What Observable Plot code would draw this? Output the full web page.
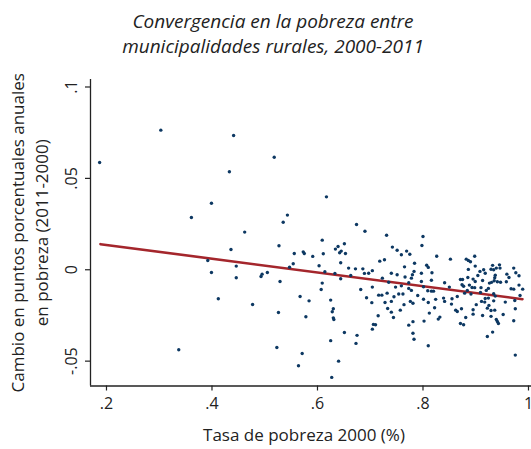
<!DOCTYPE html>
<html>
<head>
<meta charset="utf-8">
<script src="https://cdn.jsdelivr.net/npm/d3@7"></script>
<script src="https://cdn.jsdelivr.net/npm/@observablehq/plot@0.6"></script>
<style>
  html, body { margin: 0; padding: 0; background: #fff; }
  #title { width: 531px; height: 70px; box-sizing: border-box; padding-top: 9px; padding-left: 15px;
    text-align: center; font-family: "Open Sans", sans-serif; font-style: italic; font-size: 19px;
    line-height: 25px; color: #222; }
</style>
</head>
<body>
<div id="title">Convergencia en la pobreza entre<br>municipalidades rurales, 2000-2011</div>
<div id="chart"></div>
<script>
const poverty2000 = [
0.187,0.303,0.441,0.518,0.433,0.399,0.361,0.543,0.535,0.617,0.674,0.690,
0.462,0.527,0.436,0.392,0.556,0.573,0.575,0.554,0.547,0.446,0.399,0.446,0.493,0.495,0.505,0.529,0.412,0.477,0.526,0.567,0.584,0.578,0.337,0.523,0.571,0.564,
0.609,0.651,0.639,0.634,0.645,0.653,0.642,0.611,0.591,0.718,0.644,0.603,0.659,0.672,0.686,0.704,0.614,0.633,0.689,0.697,0.663,0.644,0.609,0.607,0.682,0.704,0.693,0.716,0.625,0.703,
0.731,0.800,0.798,0.742,0.751,0.769,0.775,0.759,0.826,0.727,0.852,0.784,0.807,0.810,0.765,0.783,0.740,0.751,0.797,0.817,0.780,0.778,0.766,0.723,0.816,0.735,0.797,0.871,0.773,0.841,0.748,0.759,0.801,0.850,0.773,0.778,0.809,0.816,0.820,0.732,0.754,0.762,0.722,0.745,0.790,0.839,0.865,0.855,0.801,0.824,0.776,0.781,0.810,0.728,0.740,0.764,0.841,0.854,
0.898,0.882,0.886,0.890,0.899,0.932,0.945,0.972,0.939,0.946,0.929,0.934,0.915,0.886,0.908,0.918,0.976,0.959,0.937,0.904,0.982,0.963,0.885,0.875,0.936,0.895,0.935,0.941,0.913,0.947,0.926,0.930,0.958,0.899,0.888,0.874,0.877,0.893,0.898,0.910,0.924,0.967,0.972,0.982,0.989,0.920,0.884,0.879,0.909,0.934,0.937,0.984,0.891,0.901,0.918,0.924,0.911,0.917,0.974,0.934,0.956,
0.975,0.972,0.975,
0.630,0.628,0.630,0.631,0.715,0.706,0.710,0.704,0.651,0.675,0.625,0.673,0.640,0.627,
0.733,0.740,0.744,0.757,0.781,0.773,0.802,0.812,0.822,0.832,0.829,0.862,0.865,0.871,0.781,0.783,0.810,
0.873,0.895,0.895,0.881,0.877,0.922,0.925,0.929,0.936,0.913,0.929,0.939,0.941,0.943,0.952,0.932,0.922
];
const povertyChange = [
0.0587,0.0764,0.0735,0.0616,0.0536,0.0364,0.0286,0.0299,0.0260,0.0399,0.0248,0.0211,
0.0206,0.0131,0.0111,0.0051,0.0089,0.0098,0.0089,0.0033,0.0014,0.0020,-0.0015,-0.0044,-0.0037,-0.0024,-0.0015,-0.0064,-0.0159,-0.0190,-0.0234,-0.0146,-0.0170,-0.0257,-0.0438,-0.0425,-0.0458,-0.0525,
0.0162,0.0142,0.0127,0.0113,0.0102,0.0089,0.0093,0.0088,0.0073,0.0047,0.0038,0.0022,0.0009,0.0005,0.0005,-0.0005,-0.0011,-0.0020,-0.0020,-0.0019,-0.0031,-0.0049,-0.0073,-0.0108,-0.0108,-0.0095,-0.0153,-0.0139,-0.0166,-0.0180,
0.0189,0.0182,0.0133,0.0124,0.0107,0.0102,0.0085,0.0082,0.0074,0.0055,0.0058,0.0036,0.0025,0.0013,0.0016,-0.0009,-0.0019,-0.0027,-0.0019,-0.0016,-0.0027,-0.0046,-0.0040,-0.0046,-0.0057,-0.0068,-0.0064,-0.0053,-0.0071,-0.0071,-0.0095,-0.0088,-0.0093,-0.0095,-0.0102,-0.0113,-0.0115,-0.0117,-0.0117,-0.0128,-0.0133,-0.0133,-0.0139,-0.0148,-0.0141,-0.0155,-0.0146,-0.0159,-0.0161,-0.0162,-0.0173,-0.0183,-0.0179,-0.0179,-0.0173,-0.0191,-0.0173,-0.0188,
0.0074,0.0058,0.0051,0.0044,0.0020,0.0024,0.0027,0.0009,0.0009,0.0009,0.0003,0.0000,0.0000,0.0002,-0.0009,-0.0019,-0.0016,-0.0024,-0.0030,-0.0031,-0.0033,-0.0042,-0.0042,-0.0053,-0.0044,-0.0051,-0.0060,-0.0066,-0.0059,-0.0068,-0.0073,-0.0069,-0.0066,-0.0064,-0.0084,-0.0082,-0.0090,-0.0097,-0.0098,-0.0098,-0.0102,-0.0104,-0.0106,-0.0084,-0.0106,-0.0113,-0.0113,-0.0128,-0.0124,-0.0131,-0.0144,-0.0141,-0.0133,-0.0191,-0.0157,-0.0155,-0.0173,-0.0177,-0.0168,-0.0170,-0.0177,
-0.0213,-0.0279,-0.0467,
-0.0213,-0.0230,-0.0263,-0.0272,-0.0252,-0.0299,-0.0301,-0.0325,-0.0343,-0.0359,-0.0388,-0.0403,-0.0500,-0.0589,
-0.0212,-0.0232,-0.0261,-0.0221,-0.0284,-0.0303,-0.0281,-0.0237,-0.0208,-0.0259,-0.0270,-0.0221,-0.0228,-0.0294,-0.0347,-0.0380,-0.0416,
-0.0213,-0.0219,-0.0243,-0.0261,-0.0301,-0.0210,-0.0195,-0.0223,-0.0221,-0.0250,-0.0255,-0.0272,-0.0283,-0.0294,-0.0245,-0.0341,-0.0365
];
const fitX = [0.1886, 0.9886];
const fitY = [0.0140, -0.0161];
const xTicks = [0.2, 0.4, 0.6, 0.8, 1];
const xTickLabels = [".2", ".4", ".6", ".8", "1"];
const yTicks = [0.1, 0.05, 0, -0.05];
const yTickLabels = [".1", ".05", "0", "-.05"];
const xTitle = "Tasa de pobreza 2000 (%)";
const yTitle = ["Cambio en puntos porcentuales anuales", "en pobreza (2011-2000)"];

const points = poverty2000.map((x, i) => ({x, y: povertyChange[i]}));
const fit = fitX.map((x, i) => ({x, y: fitY[i]}));
const yTickData = yTicks.map((v, i) => ({v, label: yTickLabels[i]}));
const xDomain = [0.1697, 1.0057];
const yDomain = [-0.0636, 0.1041];
const ink = "#222";
const font = "'Open Sans', sans-serif";

const chart = Plot.plot({
  width: 531,
  height: 379,
  marginLeft: 90,
  marginRight: 0,
  marginTop: 9,
  marginBottom: 63.5,
  style: {fontFamily: font, fontSize: "16px", color: ink, background: "#fff", overflow: "visible"},
  x: {domain: xDomain},
  y: {domain: yDomain},
  marks: [
    Plot.ruleX([xDomain[0]], {stroke: ink, strokeWidth: 1.3}),
    Plot.ruleY([yDomain[0]], {stroke: ink, strokeWidth: 1.3}),
    Plot.axisX({ticks: xTicks, tickFormat: d => xTickLabels[xTicks.indexOf(d)], tickSize: 5, tickPadding: 7, fontSize: 16, stroke: ink, strokeWidth: 1.2, label: null}),
    Plot.axisY({ticks: yTicks, tickFormat: () => "", tickSize: 5, stroke: ink, strokeWidth: 1.2, label: null}),
    Plot.text(yTickData, {x: () => xDomain[0], y: "v", text: "label", rotate: -90, dx: -19, textAnchor: "middle", lineAnchor: "middle", fontSize: 16, fill: ink}),
    Plot.text([xTitle], {frameAnchor: "bottom", dx: -7, dy: 54.5, fontSize: 17, fill: ink}),
    Plot.text([yTitle[0]], {frameAnchor: "left", dx: -72, rotate: -90, fontSize: 17, fill: ink, textAnchor: "middle", lineWidth: 100}),
    Plot.text([yTitle[1]], {frameAnchor: "left", dx: -48, rotate: -90, fontSize: 17, fill: ink, textAnchor: "middle", lineWidth: 100}),
    Plot.line(fit, {x: "x", y: "y", stroke: "#a4262c", strokeWidth: 2.6}),
    Plot.dot(points, {x: "x", y: "y", r: 1.7, fill: "#0d3862", stroke: "none"})
  ]
});
document.getElementById("chart").appendChild(chart);
</script>
</body>
</html>
